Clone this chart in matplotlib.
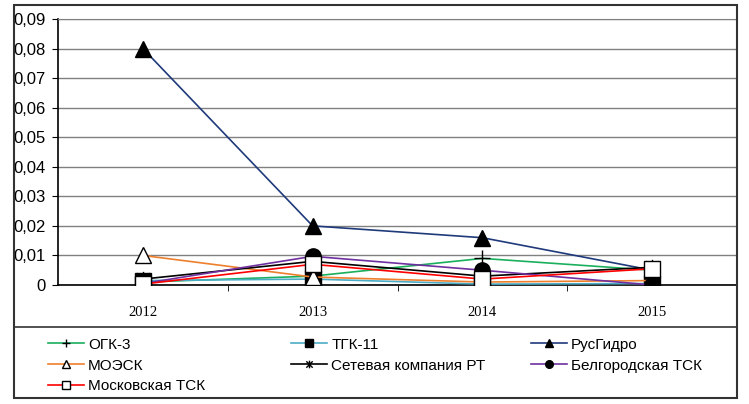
import matplotlib
matplotlib.use("Agg")
import matplotlib.pyplot as plt
from matplotlib.patches import Rectangle
from matplotlib.lines import Line2D
from matplotlib.path import Path

years = ["2012", "2013", "2014", "2015"]
names = ["ОГК-3", "ТГК-11", "РусГидро", "МОЭСК",
         "Сетевая компания РТ", "Белгородская ТСК", "Московская ТСК"]
ogk3 = [0.001, 0.003, 0.009, 0.005]
tgk11 = [0.0015, 0.002, 0.0003, 0.0005]
rusgidro = [0.08, 0.02, 0.016, 0.005]
moesk = [0.01, 0.0027, 0.001, 0.0015]
seti_rt = [0.002, 0.008, 0.003, 0.006]
belgorod = [0.0005, 0.0097, 0.005, 0.0]
moscow = [0.0003, 0.007, 0.002, 0.0055]
y_ticks = [0, 0.01, 0.02, 0.03, 0.04, 0.05, 0.06, 0.07, 0.08, 0.09]

# Excel-like star marker: X plus vertical line
star = Path([(-1, -1), (1, 1), (-1, 1), (1, -1), (0, -1.2), (0, 1.2)],
            [Path.MOVETO, Path.LINETO, Path.MOVETO, Path.LINETO, Path.MOVETO, Path.LINETO])

series = [
    (ogk3, "#1aaf5d", "+", "black"),
    (tgk11, "#4bacc6", "s", "black"),
    (rusgidro, "#1f3a7a", "^", "black"),
    (moesk, "#ee7f2d", "^", "white"),
    (seti_rt, "black", star, "black"),
    (belgorod, "#7030a0", "o", "black"),
    (moscow, "#ff0000", "s", "white"),
]

W, H = 749, 404
fig = plt.figure(figsize=(W / 100, H / 100), dpi=100)
ax = fig.add_axes([58 / W, 1 - 285 / H, (737 - 58) / W, (285 - 19) / H])

x = list(range(len(years)))
handles = []
for (vals, col, mk, face), name in zip(series, names):
    ms = 11 if mk != "+" else 12
    ln, = ax.plot(x, vals, color=col, lw=1.2, marker=mk, markersize=ms,
                  markerfacecolor=face, markeredgecolor="black", markeredgewidth=1.0,
                  label=name, zorder=3)
    handles.append(ln)

ax.set_xlim(-0.5, 3.5)
ax.set_ylim(0, 0.09)
ax.set_yticks(y_ticks)
ax.set_yticklabels(["0" if v == 0 else ("%.2f" % v).replace(".", ",") for v in y_ticks],
                   fontsize=12, fontfamily="Liberation Sans")
ax.set_xticks(x)
ax.set_xticklabels(years, fontsize=10.5, fontfamily="Liberation Serif")
ax.set_xticks([0.5, 1.5, 2.5], minor=True)
ax.tick_params(axis="x", which="major", length=0, pad=15)
ax.tick_params(axis="x", which="minor", length=4, direction="out", color="black")
ax.tick_params(axis="y", length=4, direction="out", pad=5)
ax.grid(axis="y", color="#808080", lw=1)
ax.set_axisbelow(True)
ax.spines["top"].set_color("#808080")
for s in ["left", "bottom", "right"]:
    ax.spines[s].set_color("black")
    ax.spines[s].set_linewidth(1.2)

# outer chart frame and divider above legend
fig.add_artist(Rectangle((14 / W, 1 - 398 / H), 723 / W, 393 / H, transform=fig.transFigure,
                         fill=False, edgecolor="#333333", lw=1.5))
fig.add_artist(Line2D([14 / W, 737 / W], [1 - 327 / H, 1 - 327 / H], transform=fig.transFigure,
                      color="#333333", lw=1.2))

cols = [[0, 3, 6], [1, 4], [2, 5]]
col_x = [40, 283, 523]
for idx, cx in zip(cols, col_x):
    fig.legend([handles[i] for i in idx], [names[i] for i in idx],
               loc="upper left", bbox_to_anchor=(cx / W, 1 - 330 / H),
               frameon=False, borderpad=0, handlelength=2.4, handletextpad=0.25,
               labelspacing=0.45, markerscale=0.5,
               prop={"family": "Liberation Sans", "size": 11})

fig.savefig("out.png", dpi=100)
